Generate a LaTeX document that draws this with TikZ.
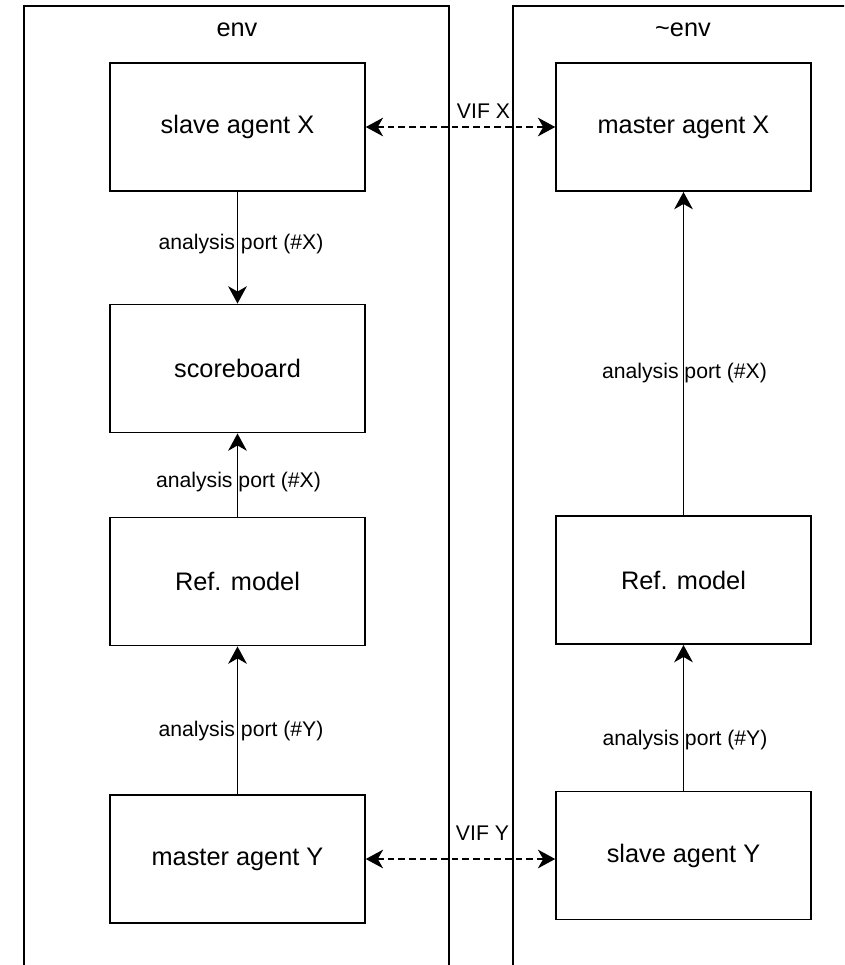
\documentclass[tikz,border=0pt]{standalone}
\usepackage{fontspec}
\setmainfont{Liberation Sans}
\usetikzlibrary{arrows.meta}

\begin{document}
\begin{tikzpicture}[x=0.75pt, y=-0.75pt,
  box/.style={draw, line width=1.4pt, minimum width=191pt, minimum height=96pt,
              inner sep=0pt, font=\fontsize{19}{22}\selectfont},
  heading/.style={inner sep=0pt, font=\fontsize{19}{22}\selectfont},
  lbl/.style={inner sep=0pt, font=\fontsize{15.9}{19}\selectfont},
  frameline/.style={line width=1.4pt},
  tip/.tip={Stealth[length=13pt, width=14pt, inset=4pt]},
  flow/.style={line width=1.4pt, -tip},
  link/.style={line width=1.4pt, dash pattern=on 5pt off 3pt, tip-tip},
]
\useasboundingbox (0,0) rectangle (844,965);
\clip (0,0) rectangle (844,965);

% the two environment frames (open at the bottom / right)
\draw[frameline] (24,975) -- (24,6) -- (449,6) -- (449,975);
\draw[frameline] (513,975) -- (513,6) -- (860,6);
\node[heading] (envL) at (237,30) {env};
\node[heading] (envR) at (683,30) {\textasciitilde env};

% components of env
\node[box] (slaveX)  at (237.5,127)   {slave agent X};
\node[box] (score)   at (237.5,368.5) {scoreboard};
\node[box] (refL)    at (237.5,581.5) {Ref. model};
\node[box] (masterY) at (237.5,859)   {master agent Y};

% components of ~env
\node[box] (masterX) at (683.5,127)   {master agent X};
\node[box] (refR)    at (683.5,580)   {Ref. model};
\node[box] (slaveY)  at (683.5,855.5) {slave agent Y};

% analysis port connections
\draw[flow] (slaveX.south) -- (score.north);
\draw[flow] (refL.north) -- (score.south);
\draw[flow] (masterY.north) -- (refL.south);
\draw[flow] (refR.north) -- (masterX.south);
\draw[flow] (slaveY.north) -- (refR.south);

\node[lbl] (apL1) at (241,244)   {analysis port (\#X)};
\node[lbl] (apL2) at (238.5,482) {analysis port (\#X)};
\node[lbl] (apL3) at (241,731)   {analysis port (\#Y)};
\node[lbl] (apR1) at (684.5,373) {analysis port (\#X)};
\node[lbl] (apR2) at (685,740)   {analysis port (\#Y)};

% virtual interfaces between the environments
\draw[link] (slaveX.east) -- (slaveX.east -| masterX.west);
\draw[link] (masterY.east) -- (masterY.east -| slaveY.west);
\node[lbl] (vifX) at (483.5,111) {VIF X};
\node[lbl] (vifY) at (482.5,833) {VIF Y};
\end{tikzpicture}
\end{document}
